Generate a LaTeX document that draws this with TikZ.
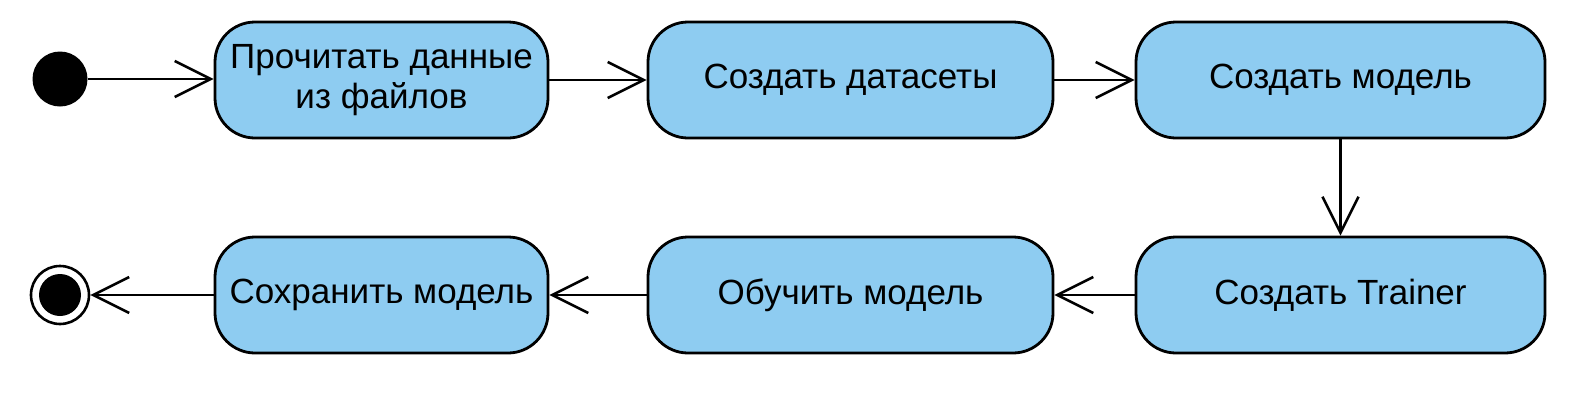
\documentclass[tikz,border=0pt]{standalone}
\usepackage{fontspec}
\setmainfont{Liberation Sans}
\usetikzlibrary{arrows.meta}
\definecolor{actblue}{RGB}{142,204,241}

\begin{document}
\begin{tikzpicture}[x=1pt, y=-1pt,
  act/.style={rectangle, rounded corners=40pt, draw, line width=2.8pt, fill=actblue,
    minimum height=116pt, inner sep=0pt, align=center,
    font=\fontsize{35}{40}\selectfont},
  flow/.style={line width=2.6pt, -{Straight Barb[length=36pt, width=36pt]}}]
\useasboundingbox (0,0) rectangle (1590,400);

\node[circle, fill, inner sep=0pt, minimum size=55pt] (start) at (60,79) {};
\node[circle, draw, line width=2.6pt, inner sep=0pt, minimum size=58pt,
  path picture={\fill (path picture bounding box.center) circle (21pt);}] (end) at (60,295) {};

\node[act, minimum width=333pt] (read) at (381.5,80) {Прочитать данные\\из файлов};
\node[act, minimum width=405pt] (data) at (850.5,80) {Создать датасеты};
\node[act, minimum width=409pt] (model) at (1340.5,80) {Создать модель};
\node[act, minimum width=409pt] (trainer) at (1340.5,295) {Создать Trainer};
\node[act, minimum width=405pt] (train) at (850.5,295) {Обучить модель};
\node[act, minimum width=333pt] (save) at (381.5,295) {Сохранить модель};

\draw[flow] (start) -- (read.west |- start);
\draw[flow] (read) -- (data);
\draw[flow] (data) -- (model);
\draw[flow] (model) -- (trainer);
\draw[flow] (trainer) -- (train);
\draw[flow] (train) -- (save);
\draw[flow] (save) -- (end);
\end{tikzpicture}
\end{document}
